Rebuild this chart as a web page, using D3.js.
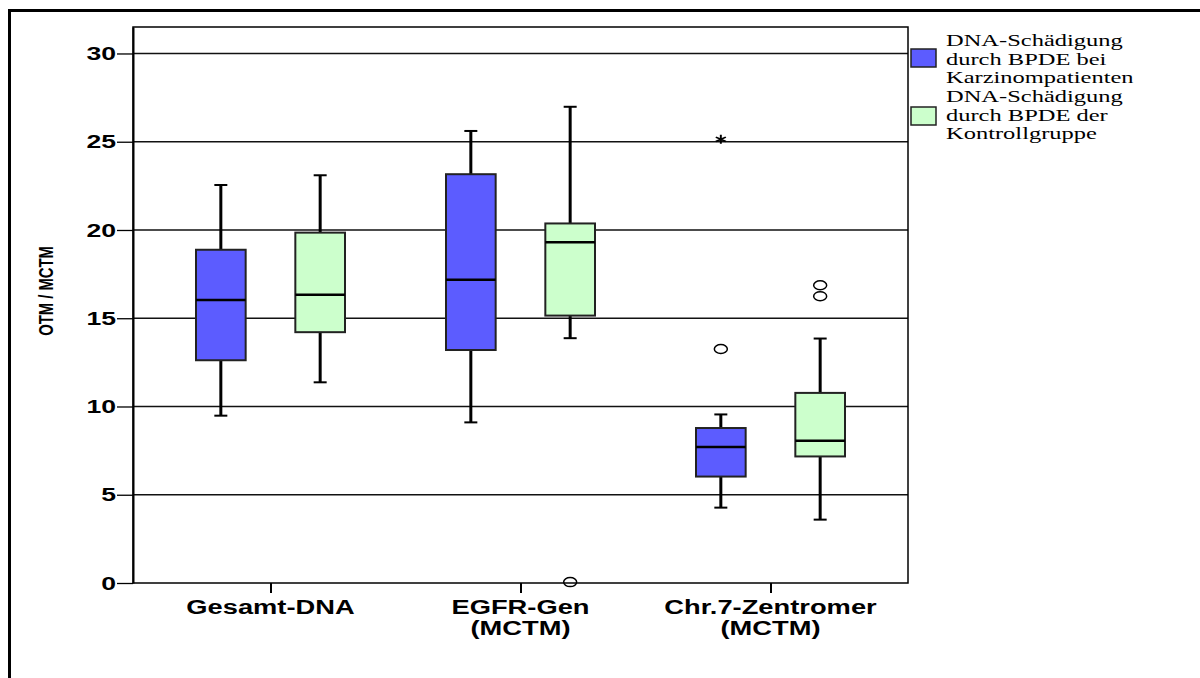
<!DOCTYPE html>
<html>
<head>
<meta charset="utf-8">
<script src="https://cdn.jsdelivr.net/npm/d3@7"></script>
<style>
  body { margin: 0; background: #fff; }
  svg { display: block; }
</style>
</head>
<body>
<div id="plot"></div>
<script>
const FRAME_WIDTH = 1200;
const FRAME_HEIGHT = 678;
const MARGIN = {left: 133, right: 292, top: 27, bottom: 95};
const STRETCH = 1.4;   // the original picture is stretched sideways

// data
const categories = ["Gesamt-DNA", "EGFR-Gen", "Chr.7-Zentromer"];
const categoryLines = [["Gesamt-DNA"], ["EGFR-Gen", "(MCTM)"], ["Chr.7-Zentromer", "(MCTM)"]];
const groups = ["patients", "controls"];
const legendLines = [
  ["DNA-Schädigung", "durch BPDE bei", "Karzinompatienten"],
  ["DNA-Schädigung", "durch BPDE der", "Kontrollgruppe"]
];
const yTicks = [0, 5, 10, 15, 20, 25, 30];

const patLow  = [9.48, 9.1, 4.27];
const patQ1   = [12.62, 13.2, 6.03];
const patMed  = [16.04, 17.18, 7.70];
const patQ3   = [18.88, 23.16, 8.78];
const patHigh = [22.55, 25.61, 9.55];
const patOutliers = [[], [], [13.26]];
const patExtremes = [[], [], [25.14]];

const conLow  = [11.37, 13.87, 3.59];
const conQ1   = [14.21, 15.15, 7.17];
const conMed  = [16.33, 19.30, 8.06];
const conQ3   = [19.85, 20.37, 10.77];
const conHigh = [23.1, 26.98, 13.85];
const conOutliers = [[], [0.05], [16.87, 16.25]];
const conExtremes = [[], [], []];

const COLORS = {patients: "#5c5cff", controls: "#ccffcc"};

const boxes = [];
categories.forEach((c, i) => {
  boxes.push({cat: c, group: "patients", low: patLow[i], q1: patQ1[i], med: patMed[i],
              q3: patQ3[i], high: patHigh[i], out: patOutliers[i], ext: patExtremes[i]});
  boxes.push({cat: c, group: "controls", low: conLow[i], q1: conQ1[i], med: conMed[i],
              q3: conQ3[i], high: conHigh[i], out: conOutliers[i], ext: conExtremes[i]});
});

const VIS_WIDTH = FRAME_WIDTH - MARGIN.left - MARGIN.right;
const VIS_HEIGHT = FRAME_HEIGHT - MARGIN.top - MARGIN.bottom;

const FRAME = d3.select("#plot")
  .append("svg")
    .attr("width", FRAME_WIDTH)
    .attr("height", FRAME_HEIGHT);

// outer border
FRAME.append("rect")
  .attr("x", 9.5).attr("y", 10.5)
  .attr("width", 1200).attr("height", 700)
  .attr("fill", "none").attr("stroke", "#000").attr("stroke-width", 3);

const X_SCALE = d3.scalePoint()
  .domain(categories)
  .range([0, VIS_WIDTH])
  .padding(0.55);

const X_GROUP = d3.scaleBand()
  .domain(groups)
  .range([-74.5, 74.5])
  .paddingInner(0.5)
  .paddingOuter(0);

const Y_SCALE = d3.scaleLinear()
  .domain([0, 31.5])
  .range([VIS_HEIGHT, 0]);

const G = FRAME.append("g")
  .attr("transform", "translate(" + MARGIN.left + "," + MARGIN.top + ")");

// gridlines
G.selectAll(".grid")
  .data(yTicks.filter(d => d > 0))
  .enter()
  .append("line")
    .attr("x1", 0).attr("x2", VIS_WIDTH)
    .attr("y1", d => Y_SCALE(d)).attr("y2", d => Y_SCALE(d))
    .attr("stroke", "#111").attr("stroke-width", 1.3);

// plot frame
G.append("rect")
  .attr("x", 0).attr("y", 0)
  .attr("width", VIS_WIDTH).attr("height", VIS_HEIGHT)
  .attr("fill", "none").attr("stroke", "#000").attr("stroke-width", 1.5);

// y axis
const yAxis = G.append("g")
  .call(d3.axisLeft(Y_SCALE).tickValues(yTicks).tickSize(16).tickSizeOuter(0));
yAxis.select(".domain").attr("stroke-width", 2);
yAxis.selectAll(".tick line").attr("stroke-width", 1.3);
yAxis.selectAll(".tick text")
  .attr("x", -17 / STRETCH)
  .attr("transform", "scale(" + STRETCH + ",1)")
  .attr("font-family", "Liberation Sans, Arial, sans-serif")
  .attr("font-weight", "bold")
  .attr("font-size", "19px")
  .attr("fill", "#000");

// x axis
const xAxis = G.append("g")
  .attr("transform", "translate(0," + VIS_HEIGHT + ")")
  .call(d3.axisBottom(X_SCALE).tickSize(10).tickSizeOuter(0).tickFormat(""));
xAxis.select(".domain").remove();
xAxis.selectAll(".tick line").attr("stroke-width", 2);

categoryLines.forEach((lines, i) => {
  lines.forEach((t, j) => {
    G.append("text")
      .attr("transform", "translate(" + X_SCALE(categories[i]) + "," + (VIS_HEIGHT + 31 + j * 21) + ") scale(" + STRETCH + ",1)")
      .attr("text-anchor", "middle")
      .attr("font-family", "Liberation Sans, Arial, sans-serif")
      .attr("font-weight", "bold")
      .attr("font-size", "19.5px")
      .text(t);
  });
});

// y title (narrow along its reading direction, like the original)
G.append("text")
  .attr("transform", "translate(" + (-80) + "," + (VIS_HEIGHT / 2 - 14) + ") rotate(-90) scale(0.74,1)")
  .attr("text-anchor", "middle")
  .attr("font-family", "Liberation Sans, Arial, sans-serif")
  .attr("font-weight", "bold")
  .attr("font-size", "20px")
  .text("OTM / MCTM");

// boxes
const CAP = 13;
const bx = d => X_SCALE(d.cat) + X_GROUP(d.group);
const bw = X_GROUP.bandwidth();

const B = G.selectAll(".box")
  .data(boxes)
  .enter()
  .append("g");

B.append("line")
  .attr("x1", d => bx(d) + bw / 2).attr("x2", d => bx(d) + bw / 2)
  .attr("y1", d => Y_SCALE(d.low)).attr("y2", d => Y_SCALE(d.high))
  .attr("stroke", "#000").attr("stroke-width", 3);

B.selectAll(".cap")
  .data(d => [d.low, d.high].map(v => ({v: v, d: d})))
  .enter()
  .append("line")
    .attr("x1", e => bx(e.d) + bw / 2 - CAP / 2).attr("x2", e => bx(e.d) + bw / 2 + CAP / 2)
    .attr("y1", e => Y_SCALE(e.v)).attr("y2", e => Y_SCALE(e.v))
    .attr("stroke", "#000").attr("stroke-width", 2);

B.append("rect")
  .attr("x", bx).attr("width", bw)
  .attr("y", d => Y_SCALE(d.q3))
  .attr("height", d => Y_SCALE(d.q1) - Y_SCALE(d.q3))
  .attr("fill", d => COLORS[d.group])
  .attr("stroke", "#222").attr("stroke-width", 2);

B.append("line")
  .attr("x1", bx).attr("x2", d => bx(d) + bw)
  .attr("y1", d => Y_SCALE(d.med)).attr("y2", d => Y_SCALE(d.med))
  .attr("stroke", "#000").attr("stroke-width", 2.5);

B.selectAll(".out")
  .data(d => d.out.map(v => ({v: v, d: d})))
  .enter()
  .append("ellipse")
    .attr("cx", e => bx(e.d) + bw / 2)
    .attr("cy", e => Y_SCALE(e.v))
    .attr("rx", 6.5).attr("ry", 4.5)
    .attr("fill", "none").attr("stroke", "#000").attr("stroke-width", 1.5);

// extremes drawn as asterisks
B.selectAll(".ext")
  .data(d => d.ext.map(v => ({v: v, d: d})))
  .enter()
  .append("path")
    .attr("transform", e => "translate(" + (bx(e.d) + bw / 2) + "," + Y_SCALE(e.v) + ") scale(1.3,1)")
    .attr("d", d3.symbol().type(d3.symbolAsterisk).size(55))
    .attr("fill", "none").attr("stroke", "#000").attr("stroke-width", 1.5);

// legend
const L = FRAME.append("g")
  .attr("transform", "translate(" + (MARGIN.left + VIS_WIDTH) + "," + MARGIN.top + ")");

groups.forEach((g, i) => {
  const top = 22 + i * 58;
  L.append("rect")
    .attr("x", 3).attr("y", top)
    .attr("width", 25).attr("height", 18)
    .attr("fill", COLORS[g]).attr("stroke", "#222").attr("stroke-width", 1.5);
  legendLines[i].forEach((t, j) => {
    L.append("text")
      .attr("transform", "translate(38," + (19 + i * 56 + j * 18.5) + ") scale(" + STRETCH + ",1)")
      .attr("font-family", "Liberation Serif, Times New Roman, serif")
      .attr("font-size", "17.5px")
      .text(t);
  });
});
</script>
</body>
</html>
